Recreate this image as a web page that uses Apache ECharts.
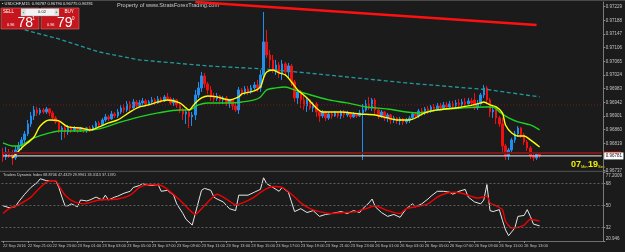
<!DOCTYPE html>
<html>
<head>
<meta charset="utf-8">
<script src="https://cdn.jsdelivr.net/npm/echarts@6/dist/echarts.min.js"></script>
<style>
html,body{margin:0;padding:0;background:#1b1b1b;}
#main{width:625px;height:252px;}
</style>
</head>
<body>
<div id="main"></div>
<script>
// USDCHF M15 candles: [open, close, low, high]
var candles = [
[0.96790,0.96778,0.96763,0.96805],[0.96778,0.96793,0.96769,0.96808],[0.96793,0.96784,0.96775,0.96802],[0.96784,0.96775,0.96754,0.96799],
[0.96775,0.96799,0.96769,0.96811],[0.96799,0.96811,0.96793,0.96823],[0.96811,0.96829,0.96799,0.96838],[0.96829,0.96847,0.96820,0.96856],
[0.96847,0.96877,0.96841,0.96889],[0.96877,0.96901,0.96868,0.96913],[0.96901,0.96919,0.96889,0.96931],[0.96919,0.96910,0.96901,0.96928],
[0.96910,0.96919,0.96904,0.96925],[0.96919,0.96913,0.96907,0.96925],[0.96913,0.96922,0.96907,0.96928],[0.96922,0.96910,0.96901,0.96925],
[0.96910,0.96895,0.96889,0.96916],[0.96895,0.96883,0.96877,0.96901],[0.96883,0.96859,0.96850,0.96889],[0.96859,0.96865,0.96829,0.96871],
[0.96865,0.96853,0.96835,0.96874],[0.96853,0.96868,0.96844,0.96874],[0.96868,0.96859,0.96850,0.96871],[0.96859,0.96865,0.96853,0.96871],
[0.96865,0.96859,0.96850,0.96868],[0.96859,0.96862,0.96853,0.96868],[0.96862,0.96856,0.96850,0.96865],[0.96856,0.96865,0.96850,0.96868],
[0.96865,0.96859,0.96853,0.96871],[0.96859,0.96868,0.96856,0.96874],[0.96868,0.96880,0.96865,0.96886],[0.96880,0.96874,0.96868,0.96886],
[0.96874,0.96889,0.96871,0.96895],[0.96889,0.96898,0.96883,0.96907],[0.96898,0.96892,0.96886,0.96904],[0.96892,0.96907,0.96889,0.96916],
[0.96907,0.96901,0.96895,0.96913],[0.96901,0.96913,0.96895,0.96922],[0.96913,0.96925,0.96907,0.96934],[0.96925,0.96919,0.96910,0.96937],
[0.96919,0.96937,0.96913,0.96946],[0.96937,0.96925,0.96916,0.96946],[0.96925,0.96943,0.96922,0.96952],[0.96943,0.96931,0.96922,0.96949],
[0.96931,0.96940,0.96925,0.96949],[0.96940,0.96946,0.96934,0.96955],[0.96946,0.96937,0.96931,0.96952],[0.96937,0.96943,0.96931,0.96949],
[0.96943,0.96949,0.96937,0.96958],[0.96949,0.96940,0.96934,0.96955],[0.96940,0.96952,0.96937,0.96961],[0.96952,0.96946,0.96940,0.96958],
[0.96946,0.96958,0.96943,0.96964],[0.96958,0.96952,0.96946,0.96970],[0.96952,0.96940,0.96934,0.96958],[0.96940,0.96949,0.96931,0.96955],
[0.96949,0.96934,0.96925,0.96952],[0.96934,0.96919,0.96910,0.96940],[0.96919,0.96907,0.96889,0.96925],[0.96907,0.96913,0.96877,0.96919],
[0.96913,0.96898,0.96865,0.96916],[0.96898,0.96904,0.96871,0.96913],[0.96904,0.96964,0.96889,0.96979],[0.96964,0.96985,0.96955,0.97003],
[0.96985,0.97021,0.96973,0.97033],[0.97021,0.96997,0.96985,0.97030],[0.96997,0.96979,0.96967,0.97003],[0.96979,0.96961,0.96946,0.96991],
[0.96961,0.96952,0.96943,0.96970],[0.96952,0.96961,0.96946,0.96970],[0.96961,0.96949,0.96940,0.96964],[0.96949,0.96955,0.96937,0.96961],
[0.96955,0.96940,0.96931,0.96961],[0.96940,0.96949,0.96925,0.96952],[0.96949,0.96931,0.96919,0.96952],[0.96931,0.96919,0.96913,0.96940],
[0.96919,0.96979,0.96907,0.96988],[0.96979,0.96970,0.96961,0.96985],[0.96970,0.96982,0.96964,0.96991],[0.96982,0.96973,0.96964,0.96991],
[0.96973,0.96985,0.96967,0.96994],[0.96985,0.96994,0.96979,0.97003],[0.96994,0.96985,0.96973,0.97009],[0.96985,0.97024,0.96973,0.97039],
[0.97024,0.97123,0.97009,0.97213],[0.97123,0.97084,0.97075,0.97159],[0.97084,0.97069,0.97045,0.97099],[0.97069,0.97039,0.97030,0.97084],
[0.97039,0.97054,0.97024,0.97069],[0.97054,0.97027,0.97015,0.97063],[0.97027,0.97057,0.97009,0.97069],[0.97057,0.97033,0.97021,0.97063],
[0.97033,0.97051,0.97015,0.97060],[0.97051,0.97003,0.96991,0.97057],[0.97003,0.96955,0.96943,0.97009],[0.96955,0.96973,0.96937,0.96979],
[0.96973,0.96949,0.96925,0.96979],[0.96949,0.96931,0.96919,0.96961],[0.96931,0.96949,0.96913,0.96955],[0.96949,0.96925,0.96919,0.96952],
[0.96925,0.96937,0.96913,0.96943],[0.96937,0.96913,0.96898,0.96943],[0.96913,0.96901,0.96883,0.96919],[0.96901,0.96913,0.96895,0.96919],
[0.96913,0.96895,0.96886,0.96916],[0.96895,0.96907,0.96889,0.96913],[0.96907,0.96901,0.96892,0.96913],[0.96901,0.96910,0.96898,0.96916],
[0.96910,0.96901,0.96895,0.96913],[0.96901,0.96913,0.96892,0.96919],[0.96913,0.96904,0.96895,0.96919],[0.96904,0.96910,0.96898,0.96916],
[0.96910,0.96898,0.96892,0.96913],[0.96898,0.96907,0.96895,0.96913],[0.96907,0.96901,0.96895,0.96910],[0.96901,0.96910,0.96898,0.96919],
[0.96910,0.96919,0.96769,0.96937],[0.96919,0.96937,0.96913,0.96949],[0.96937,0.96925,0.96919,0.96958],[0.96925,0.96949,0.96916,0.96955],
[0.96949,0.96919,0.96907,0.96955],[0.96919,0.96901,0.96892,0.96925],[0.96901,0.96913,0.96895,0.96919],[0.96913,0.96895,0.96886,0.96916],
[0.96895,0.96904,0.96883,0.96910],[0.96904,0.96889,0.96877,0.96907],[0.96889,0.96895,0.96880,0.96901],[0.96895,0.96886,0.96877,0.96898],
[0.96886,0.96892,0.96874,0.96898],[0.96892,0.96883,0.96874,0.96895],[0.96883,0.96889,0.96877,0.96895],[0.96889,0.96895,0.96880,0.96901],
[0.96895,0.96907,0.96889,0.96913],[0.96907,0.96901,0.96895,0.96913],[0.96901,0.96916,0.96895,0.96922],[0.96916,0.96910,0.96901,0.96925],
[0.96910,0.96922,0.96904,0.96928],[0.96922,0.96916,0.96907,0.96931],[0.96916,0.96928,0.96910,0.96934],[0.96928,0.96922,0.96913,0.96937],
[0.96922,0.96931,0.96916,0.96940],[0.96931,0.96925,0.96919,0.96940],[0.96925,0.96934,0.96919,0.96943],[0.96934,0.96928,0.96922,0.96943],
[0.96928,0.96937,0.96922,0.96946],[0.96937,0.96931,0.96925,0.96946],[0.96931,0.96940,0.96925,0.96949],[0.96940,0.96934,0.96928,0.96952],
[0.96934,0.96943,0.96928,0.96952],[0.96943,0.96937,0.96931,0.96955],[0.96937,0.96946,0.96931,0.96955],[0.96946,0.96940,0.96931,0.96955],
[0.96949,0.96925,0.96919,0.96970],[0.96925,0.96937,0.96919,0.96949],[0.96937,0.96964,0.96931,0.96970],[0.96964,0.96985,0.96955,0.96994],
[0.96985,0.96949,0.96937,0.96991],[0.96949,0.96913,0.96898,0.96955],[0.96913,0.96919,0.96895,0.96931],[0.96919,0.96895,0.96877,0.96925],
[0.96895,0.96877,0.96868,0.96901],[0.96877,0.96811,0.96793,0.96895],[0.96811,0.96781,0.96769,0.96817],[0.96781,0.96799,0.96769,0.96805],
[0.96799,0.96829,0.96793,0.96835],[0.96829,0.96847,0.96820,0.96856],[0.96847,0.96865,0.96838,0.96871],[0.96865,0.96844,0.96835,0.96868],
[0.96844,0.96823,0.96814,0.96850],[0.96823,0.96805,0.96796,0.96829],[0.96805,0.96781,0.96772,0.96811],[0.96781,0.96775,0.96766,0.96793],
[0.96775,0.96787,0.96769,0.96793],[0.96787,0.96781,0.96775,0.96790]
];

// moving averages, read as [candle index, price]
var maFast = [[3,0.96775],[6,0.96805],[10,0.96838],[12,0.96871],[15,0.96889],[18,0.96886],[21,0.96868],[25,0.96865],[28,0.96859],[31,0.96868],
[34,0.96880],[37,0.96889],[41,0.96913],[44,0.96928],[47,0.96934],[50,0.96943],[53,0.96949],[57,0.96940],[59,0.96925],[60,0.96919],[62,0.96940],
[64,0.96955],[66,0.96961],[69,0.96958],[73,0.96949],[76,0.96958],[77,0.96967],[81,0.96976],[83,0.96988],[84,0.97015],[85,0.97033],[87,0.97039],
[89,0.97030],[91,0.97024],[93,0.97003],[95,0.96979],[98,0.96955],[101,0.96925],[103,0.96913],[109,0.96913],[115,0.96907],[120,0.96904],
[124,0.96895],[127,0.96889],[131,0.96889],[136,0.96910],[140,0.96919],[146,0.96925],[150,0.96931],[154,0.96940],[155,0.96943],[157,0.96934],
[159,0.96928],[161,0.96910],[162,0.96874],[164,0.96850],[166,0.96841],[168,0.96841],[170,0.96829],[173,0.96808]];
var maSlow = [[0,0.96820],[3,0.96811],[5,0.96811],[10,0.96835],[15,0.96850],[18,0.96856],[25,0.96856],[31,0.96862],[37,0.96880],[44,0.96898],
[50,0.96910],[57,0.96919],[60,0.96919],[63,0.96934],[66,0.96940],[73,0.96940],[77,0.96943],[81,0.96949],[83,0.96958],[85,0.96979],[88,0.96985],
[91,0.96988],[94,0.96979],[98,0.96967],[105,0.96949],[111,0.96940],[117,0.96928],[124,0.96922],[130,0.96913],[134,0.96910],[140,0.96919],
[148,0.96925],[155,0.96928],[158,0.96928],[160,0.96913],[163,0.96895],[166,0.96883],[170,0.96874],[173,0.96859]];
var maLong = [[7,0.97159],[18,0.97132],[31,0.97093],[44,0.97069],[66,0.97051],[84,0.97042],[98,0.97030],[130,0.97000],[157,0.96979],[173,0.96958]];
var trendLine = [[62,0.97243],[172,0.97174]];

// Traders Dynamic Index: RSI price line (white) and trade signal line (red)
var tdiPrice = [[0,49.66],[2,48.09],[4,48.88],[5,52.81],[7,59.10],[9,64.61],[11,68.55],[12,71.69],[14,70.12],[17,70.12],[18,64.61],[19,56.74],
[20,49.66],[21,49.66],[22,51.24],[24,48.88],[25,54.38],[27,53.60],[28,54.38],[30,56.74],[32,54.38],[33,58.32],[34,54.38],[36,56.74],[37,57.53],
[39,59.89],[41,61.46],[42,64.61],[44,66.19],[45,67.76],[46,66.97],[48,66.19],[50,66.97],[51,61.46],[53,62.25],[55,58.32],[56,51.24],[58,43.37],
[59,38.65],[61,33.93],[62,43.37],[64,62.25],[65,63.83],[67,62.25],[68,56.74],[69,55.17],[71,52.81],[73,47.30],[75,45.73],[76,58.32],[79,58.32],
[81,60.68],[83,63.04],[84,72.48],[85,67.76],[87,64.61],[89,61.46],[90,64.61],[92,60.68],[93,52.81],[94,44.94],[96,47.30],[98,44.16],[100,45.73],
[102,41.01],[104,42.58],[106,43.37],[109,44.94],[111,43.37],[113,45.73],[115,44.16],[116,47.30],[118,52.02],[119,55.17],[120,48.88],[122,44.16],
[124,41.01],[126,42.58],[128,40.22],[130,47.30],[132,51.24],[133,48.88],[135,51.24],[137,55.17],[138,57.53],[140,61.46],[142,61.46],[144,60.68],
[145,59.10],[147,61.46],[149,63.04],[150,56.74],[152,52.81],[154,51.24],[155,54.38],[156,66.97],[157,45.73],[158,44.94],[160,46.52],[161,37.86],
[162,30.00],[163,25.27],[165,31.57],[166,41.01],[168,41.79],[169,46.52],[170,41.01],[171,34.71],[173,33.31]];
var tdiSignal = [[0,43.37],[2,47.30],[5,50.45],[9,56.74],[12,64.61],[15,70.12],[17,70.12],[18,66.19],[20,58.32],[23,52.81],[26,51.24],[31,54.38],
[37,55.17],[41,58.32],[44,64.61],[47,66.97],[51,66.19],[53,63.04],[57,54.38],[60,46.52],[62,42.58],[64,47.30],[67,55.17],[69,59.10],[72,55.17],
[75,50.45],[78,52.81],[81,56.74],[84,62.25],[87,65.40],[90,64.61],[93,59.10],[96,52.02],[99,47.30],[102,44.94],[106,43.37],[110,44.16],[114,44.94],
[117,47.30],[120,49.66],[124,45.73],[128,43.37],[130,47.30],[133,48.88],[137,51.24],[140,56.74],[143,59.89],[146,60.68],[149,59.10],[153,55.96],
[156,57.53],[157,52.02],[159,49.66],[161,46.52],[162,37.07],[164,31.57],[165,31.57],[168,33.93],[170,38.65],[173,37.14]];
var tdiLevels = [68, 50, 32];

// axis tick labels
var priceTicks = [0.96737,0.96778,0.96819,0.96860,0.96901,0.96942,0.96983,0.97024,0.97065,0.97106,0.97147,0.97188,0.97229];
var tdiTicks = [20.946, 32, 50, 68, 77.2009];
var bid = 0.96781, ask = 0.96790, levelLine = 0.96934;

// M15 time slots from 22 Sep 2016 19:00, weekend skipped, plus empty shift space on the right
var MONTHS = ['Jan','Feb','Mar','Apr','May','Jun','Jul','Aug','Sep','Oct','Nov','Dec'];
function pad(n){ return (n < 10 ? '0' : '') + n; }
var SLOTS = 194;
var times = [];
var t = Date.UTC(2016, 8, 22, 19, 0);
for (var i = 0; i < SLOTS; i++) {
  if (i < candles.length) {
    var d = new Date(t);
    times.push(d.getUTCDate() + ' ' + MONTHS[d.getUTCMonth()] + ' ' + pad(d.getUTCHours()) + ':' + pad(d.getUTCMinutes()));
    t += 900000;
    if (new Date(t).getUTCDay() === 6) t += 2 * 86400000;
  } else {
    times.push('');
  }
}
function hLine(v) { return [[0, v], [SLOTS - 1, v]]; }

var FONT = '"Liberation Sans", Arial, sans-serif';
var AXC = '#c4c4c4';
var showTime = function (idx) { return idx % 8 === 0 && idx < candles.length; };

var myChart = echarts.init(document.getElementById('main'));
var option = {
  backgroundColor: '#1b1b1b',
  animation: false,
  grid: [
    {left: 1.44, right: 17, top: 2, height: 168.6},
    {left: 1.44, right: 17, top: 172, height: 69}
  ],
  xAxis: [
    {type: 'category', gridIndex: 0, data: times, boundaryGap: true,
     axisLine: {show: false}, axisTick: {show: false}, axisLabel: {show: false}, splitLine: {show: false}},
    {type: 'category', gridIndex: 1, data: times, boundaryGap: true,
     axisLine: {show: true, lineStyle: {color: '#6e6e6e', width: 1}},
     axisTick: {show: true, alignWithLabel: true, interval: showTime, length: 2, lineStyle: {color: '#8a8a8a'}},
     axisLabel: {show: true, interval: showTime, align: 'left', margin: 3, fontSize: 4, color: AXC, fontFamily: FONT,
       formatter: function (v, idx) { return idx === 0 ? '22 Sep 2016' : v; }},
     splitLine: {show: false}}
  ],
  yAxis: [
    {type: 'value', gridIndex: 0, position: 'right', min: 0.96737, max: 0.972428,
     axisLine: {show: true, lineStyle: {color: '#7a7a7a'}},
     axisTick: {show: true, length: 2, customValues: priceTicks, lineStyle: {color: '#8a8a8a'}},
     axisLabel: {show: true, customValues: priceTicks, margin: 2.5, fontSize: 4.5, color: AXC, fontFamily: FONT,
       formatter: function (v) { return v.toFixed(5); }},
     splitLine: {show: false}},
    {type: 'value', gridIndex: 1, position: 'right', min: 20.946, max: 77.2009,
     axisLine: {show: true, lineStyle: {color: '#7a7a7a'}},
     axisTick: {show: true, length: 2, customValues: tdiTicks, lineStyle: {color: '#8a8a8a'}},
     axisLabel: {show: true, customValues: tdiTicks, margin: 2.5, fontSize: 4.5, color: AXC, fontFamily: FONT,
       formatter: function (v) {
         if (v > 77) return '{t|' + v + '}';
         if (v < 21) return '{b|' + v + '}';
         return String(v);
       },
       rich: {t: {fontSize: 4.5, color: AXC, padding: [7, 0, 0, 0]}, b: {fontSize: 4.5, color: AXC, padding: [0, 0, 5, 0]}}},
     splitLine: {show: false}}
  ],
  series: [
    {type: 'line', xAxisIndex: 0, yAxisIndex: 0, data: hLine(levelLine), symbol: 'none', silent: true,
     lineStyle: {color: '#7a1c1c', type: [1, 2], width: 1}},
    {
      type: 'candlestick', xAxisIndex: 0, yAxisIndex: 0, data: candles, barWidth: 2,
      itemStyle: {color: '#1e8ff0', color0: '#f01010', borderColor: '#1e8ff0', borderColor0: '#f01010', borderWidth: 1}
    },
    {type: 'line', xAxisIndex: 0, yAxisIndex: 0, data: maLong, symbol: 'none',
     lineStyle: {color: '#239a9a', width: 1.3, type: [4, 2.5]}},
    {type: 'line', xAxisIndex: 0, yAxisIndex: 0, data: maSlow, symbol: 'none', smooth: 0.3,
     lineStyle: {color: '#1fd21f', width: 1.4}},
    {type: 'line', xAxisIndex: 0, yAxisIndex: 0, data: maFast, symbol: 'none', smooth: 0.3,
     lineStyle: {color: '#ffff00', width: 1.4}},
    {type: 'line', xAxisIndex: 0, yAxisIndex: 0, data: trendLine, symbol: 'none',
     lineStyle: {color: '#ff1010', width: 2.5}},
    {type: 'line', xAxisIndex: 0, yAxisIndex: 0, data: hLine(ask), symbol: 'none', silent: true,
     lineStyle: {color: '#7d1717', width: 2},
     endLabel: {show: true, distance: 2.5, formatter: ' ', backgroundColor: '#c00000', padding: [0, 8], fontSize: 3}},
    {type: 'line', xAxisIndex: 0, yAxisIndex: 0, data: hLine(bid), symbol: 'none', silent: true,
     lineStyle: {color: '#c8c8c8', width: 1.2},
     endLabel: {show: true, distance: 2.5, formatter: bid.toFixed(5), backgroundColor: '#ffffff',
       color: '#111', fontSize: 4.5, fontFamily: FONT, padding: [1, 1.5]}},
    {type: 'line', xAxisIndex: 1, yAxisIndex: 1, data: tdiPrice, symbol: 'none',
     lineStyle: {color: '#e6e6e6', width: 1},
     markLine: {symbol: 'none', silent: true, label: {show: false},
       lineStyle: {color: '#5e5e5e', type: [2, 2], width: 1},
       data: tdiLevels.map(function (v) { return {yAxis: v}; })}},
    {type: 'line', xAxisIndex: 1, yAxisIndex: 1, data: tdiSignal, symbol: 'none', smooth: 0.2,
     lineStyle: {color: '#f00000', width: 1.4}}
  ],
  graphic: [
    {type: 'rect', shape: {x: 0, y: 0, width: 625, height: 1}, style: {fill: '#4a4a4a'}},
    {type: 'rect', shape: {x: 0, y: 170.8, width: 608, height: 1.2}, style: {fill: '#4a4a4a'}},
    {type: 'text', x: 2, y: 2, style: {text: '\u25aa USDCHF,M15  0.96787 0.96790 0.96775 0.96781', fill: '#e0e0e0', fontSize: 4, fontFamily: FONT}},
    {type: 'text', x: 117, y: 2.5, style: {text: 'Property of www.StratsForexTrading.com', fill: '#c8c8c8', fontSize: 5.6, fontFamily: FONT}},
    // one click trading panel
    {type: 'rect', shape: {x: 1, y: 8, width: 38, height: 21}, style: {fill: '#c4161c', stroke: '#e46a6a', lineWidth: 0.6}},
    {type: 'rect', shape: {x: 41, y: 8, width: 38, height: 21}, style: {fill: '#c4161c', stroke: '#e46a6a', lineWidth: 0.6}},
    {type: 'rect', shape: {x: 21, y: 8.5, width: 38, height: 7.5}, style: {fill: '#f2f2f2', stroke: '#888', lineWidth: 0.4}},
    {type: 'rect', shape: {x: 21.5, y: 9, width: 4, height: 6.5}, style: {fill: '#dcdcdc'}},
    {type: 'rect', shape: {x: 54.5, y: 9, width: 4, height: 6.5}, style: {fill: '#dcdcdc'}},
    {type: 'text', x: 23.5, y: 12.3, style: {text: '-', fill: '#222', fontSize: 4, align: 'center', verticalAlign: 'middle', fontFamily: FONT}},
    {type: 'text', x: 56.5, y: 12.3, style: {text: '+', fill: '#222', fontSize: 4, align: 'center', verticalAlign: 'middle', fontFamily: FONT}},
    {type: 'text', x: 42, y: 12.3, style: {text: '0.02', fill: '#222', fontSize: 4, align: 'center', verticalAlign: 'middle', fontFamily: FONT}},
    {type: 'text', x: 3, y: 11.8, style: {text: 'SELL', fill: '#ffffff', fontSize: 4.5, verticalAlign: 'middle', fontFamily: FONT}},
    {type: 'text', x: 64.5, y: 11.8, style: {text: 'BUY', fill: '#ffffff', fontSize: 4.5, verticalAlign: 'middle', fontFamily: FONT}},
    {type: 'text', x: 7, y: 25, style: {text: '0.96', fill: '#ffffff', fontSize: 3.8, verticalAlign: 'middle', fontFamily: FONT}},
    {type: 'text', x: 17.5, y: 23.5, style: {text: '78', fill: '#ffffff', fontSize: 14, verticalAlign: 'middle', fontFamily: FONT}},
    {type: 'text', x: 32.3, y: 18.8, style: {text: '1', fill: '#ffffff', fontSize: 4.5, verticalAlign: 'middle', fontFamily: FONT}},
    {type: 'text', x: 47, y: 25, style: {text: '0.96', fill: '#ffffff', fontSize: 3.8, verticalAlign: 'middle', fontFamily: FONT}},
    {type: 'text', x: 57, y: 23.5, style: {text: '79', fill: '#ffffff', fontSize: 14, verticalAlign: 'middle', fontFamily: FONT}},
    {type: 'text', x: 72, y: 18.8, style: {text: '0', fill: '#ffffff', fontSize: 4.5, verticalAlign: 'middle', fontFamily: FONT}},
    // bar countdown
    {type: 'text', x: 571, y: 165, style: {text: '07', fill: '#f2f200', fontSize: 9, fontWeight: 'bold', verticalAlign: 'middle', fontFamily: FONT}},
    {type: 'text', x: 581, y: 166.8, style: {text: 'Min', fill: '#f2f200', fontSize: 4, verticalAlign: 'middle', fontFamily: FONT}},
    {type: 'text', x: 588, y: 165, style: {text: '19', fill: '#f2f200', fontSize: 9, fontWeight: 'bold', verticalAlign: 'middle', fontFamily: FONT}},
    {type: 'text', x: 598, y: 166.8, style: {text: 'Sec', fill: '#f2f200', fontSize: 4, verticalAlign: 'middle', fontFamily: FONT}},
    {type: 'text', x: 3, y: 174.6, style: {text: 'Traders Dynamic Index 68.8706 47.4329 29.9961 33.3113 37.1370', fill: '#d0d0d0', fontSize: 3.8, verticalAlign: 'middle', fontFamily: FONT}}
  ]
};
myChart.setOption(option);
</script>
</body>
</html>
